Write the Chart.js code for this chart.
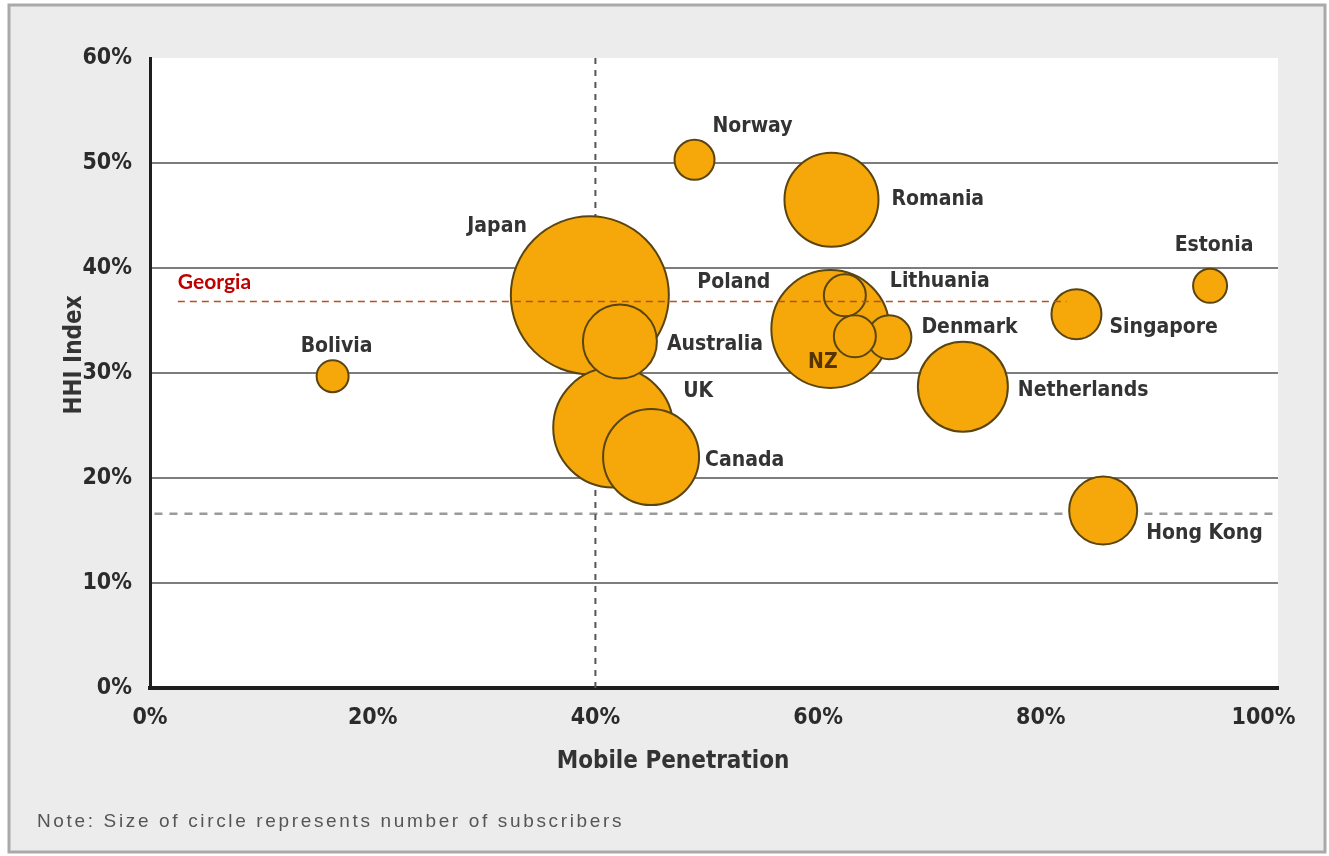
<!DOCTYPE html>
<html>
<head>
<meta charset="utf-8">
<script src="https://cdn.jsdelivr.net/npm/chart.js@4.4.1/dist/chart.umd.min.js"></script>
<style>
html, body { margin: 0; padding: 0; background: #fff; }
</style>
</head>
<body>
<canvas id="grafico" width="1329" height="856"></canvas>
<script>
// dados (penetracao movel x indice HHI, tamanho = assinantes)
const countries = ["Japan", "UK", "Australia", "Canada", "Poland", "Denmark", "Lithuania", "NZ",
    "Romania", "Norway", "Bolivia", "Netherlands", "Singapore", "Estonia", "Hong Kong"];
const penetration = [39.5, 41.6, 42.2, 45.0, 61.1, 66.4, 62.4, 63.3, 61.2, 48.9, 16.4, 73.0, 83.2, 95.2, 85.6];
const hhi = [37.4, 24.8, 33.0, 22.0, 34.2, 33.4, 37.4, 33.5, 46.5, 50.3, 29.7, 28.7, 35.6, 38.3, 16.9];
const subscribers = [79, 60, 37, 48, 59, 22, 21, 21, 47, 20, 16, 45, 25, 17, 34]; // raio do circulo

const georgiaHHI = 36.8;
const georgiaSpan = [2.5, 82.3];
const penetrationRef = 40;
const hhiRef = 16.6;

const xTicks = [0, 20, 40, 60, 80, 100];
const yTicks = [0, 10, 20, 30, 40, 50, 60];

// onde fica cada nome em relacao ao circulo (px)
const labelPos = {
    "Japan": [-63, -69, "right"],
    "UK": [70, -36, "left"],
    "Australia": [47, 3, "left"],
    "Canada": [54, 4, "left"],
    "Poland": [-60, -46, "right"],
    "Denmark": [32, -10, "left"],
    "Lithuania": [45, -14, "left"],
    "NZ": [-32, 26, "center"],
    "Romania": [60, 0, "left"],
    "Norway": [18, -33, "left"],
    "Bolivia": [4, -30, "center"],
    "Netherlands": [55, 4, "left"],
    "Singapore": [33, 13, "left"],
    "Estonia": [4, -40, "center"],
    "Hong Kong": [43, 23, "left"]
};

const narrow = "'Liberation Sans Narrow', 'DejaVu Sans Condensed', sans-serif";

const framePlugin = {
    id: "frame",
    beforeDraw(chart) {
        const c = chart.ctx;
        const a = chart.chartArea;
        c.save();
        c.fillStyle = "#ffffff";
        c.fillRect(0, 0, chart.width, chart.height);
        c.fillStyle = "#ececec";
        c.fillRect(9, 5, 1316, 847);
        c.strokeStyle = "#a9a9a9";
        c.lineWidth = 3;
        c.strokeRect(9, 5, 1316, 847);
        c.fillStyle = "#ffffff";
        c.fillRect(a.left, a.top, a.right - a.left, a.bottom - a.top);
        c.restore();
    },
    afterDatasetsDraw(chart) {
        const c = chart.ctx;
        const xs = chart.scales.x;
        const ys = chart.scales.y;
        c.save();
        c.font = "bold 21px " + narrow;
        c.textBaseline = "middle";
        countries.forEach((name, i) => {
            const p = labelPos[name];
            const px = xs.getPixelForValue(penetration[i]) + p[0];
            const py = ys.getPixelForValue(hhi[i]) + p[1];
            c.fillStyle = name === "NZ" ? "#553400" : "#333333";
            c.textAlign = p[2];
            c.fillText(name, px, py);
        });
        // Georgia
        c.font = "bold 21px Lato, 'Open Sans', sans-serif";
        c.fillStyle = "#c00000";
        c.textAlign = "left";
        c.fillText("Georgia", xs.getPixelForValue(georgiaSpan[0]), ys.getPixelForValue(georgiaHHI) - 19);
        c.restore();
    },
    afterDraw(chart) {
        const c = chart.ctx;
        c.save();
        c.fillStyle = "#333333";
        c.font = "bold 24px " + narrow;
        c.textAlign = "center";
        c.textBaseline = "middle";
        c.fillText("Mobile Penetration", 673, 762);
        c.translate(75, 355);
        c.rotate(-Math.PI / 2);
        c.fillText("HHI Index", 0, 0);
        c.restore();
        c.save();
        c.letterSpacing = "2.65px";
        c.fillStyle = "#555555";
        c.font = "19px 'Liberation Sans', sans-serif";
        c.textAlign = "left";
        c.textBaseline = "middle";
        c.fillText("Note: Size of circle represents number of subscribers", 37, 822);
        c.restore();
    }
};

const bubbles = countries.map((n, i) => ({ x: penetration[i], y: hhi[i], r: subscribers[i] }));

const ctx = document.getElementById("grafico");
new Chart(ctx, {
    type: "bubble",
    data: {
        datasets: [
            {
                label: "Georgia",
                type: "line",
                data: [{ x: georgiaSpan[0], y: georgiaHHI }, { x: georgiaSpan[1], y: georgiaHHI }],
                borderColor: "#b4521d",
                borderWidth: 1.5,
                borderDash: [7, 5],
                pointRadius: 0,
                fill: false,
                order: 0
            },
            {
                label: "countries",
                data: bubbles,
                backgroundColor: "#f6a80a",
                borderColor: "#5a4510",
                borderWidth: 2,
                clip: false,
                order: 1
            },
            {
                label: "ref40",
                type: "line",
                data: [{ x: penetrationRef, y: 0 }, { x: penetrationRef, y: 60 }],
                borderColor: "#555555",
                borderWidth: 2,
                borderDash: [6, 6],
                pointRadius: 0,
                fill: false,
                order: 2
            },
            {
                label: "refHHI",
                type: "line",
                data: [{ x: 0.4, y: hhiRef }, { x: 101.3, y: hhiRef }],
                borderColor: "#9a9a9a",
                borderWidth: 2.5,
                borderDash: [8, 7],
                pointRadius: 0,
                fill: false,
                order: 2
            }
        ]
    },
    options: {
        responsive: false,
        animation: false,
        events: [],
        layout: { autoPadding: false, padding: { top: 58, right: 51, left: 0, bottom: 0 } },
        plugins: { legend: { display: false }, tooltip: { enabled: false } },
        scales: {
            x: {
                type: "linear",
                min: 0,
                max: 101.3,
                afterFit: s => { s.height = 168; },
                afterBuildTicks: s => { s.ticks = xTicks.map(v => ({ value: v })); },
                ticks: {
                    callback: v => v + "%",
                    color: "#2b2b2b",
                    font: { family: narrow, size: 23, weight: "bold" },
                    padding: 16,
                    maxRotation: 0,
                    autoSkip: false
                },
                grid: { display: false, drawTicks: false },
                border: { display: true, color: "#1e1e1e", width: 4 }
            },
            y: {
                type: "linear",
                min: 0,
                max: 60,
                afterFit: s => { s.width = 150; },
                afterBuildTicks: s => { s.ticks = yTicks.map(v => ({ value: v })); },
                ticks: {
                    callback: v => v + "%",
                    color: "#2b2b2b",
                    font: { family: narrow, size: 23, weight: "bold" },
                    padding: 18
                },
                grid: {
                    drawTicks: false,
                    lineWidth: 2,
                    color: c => (c.tick && (c.tick.value === 0 || c.tick.value === 60)) ? "rgba(0,0,0,0)" : "#7d7d7d"
                },
                border: { display: true, color: "#1e1e1e", width: 3 }
            }
        }
    },
    plugins: [framePlugin]
});
</script>
</body>
</html>
